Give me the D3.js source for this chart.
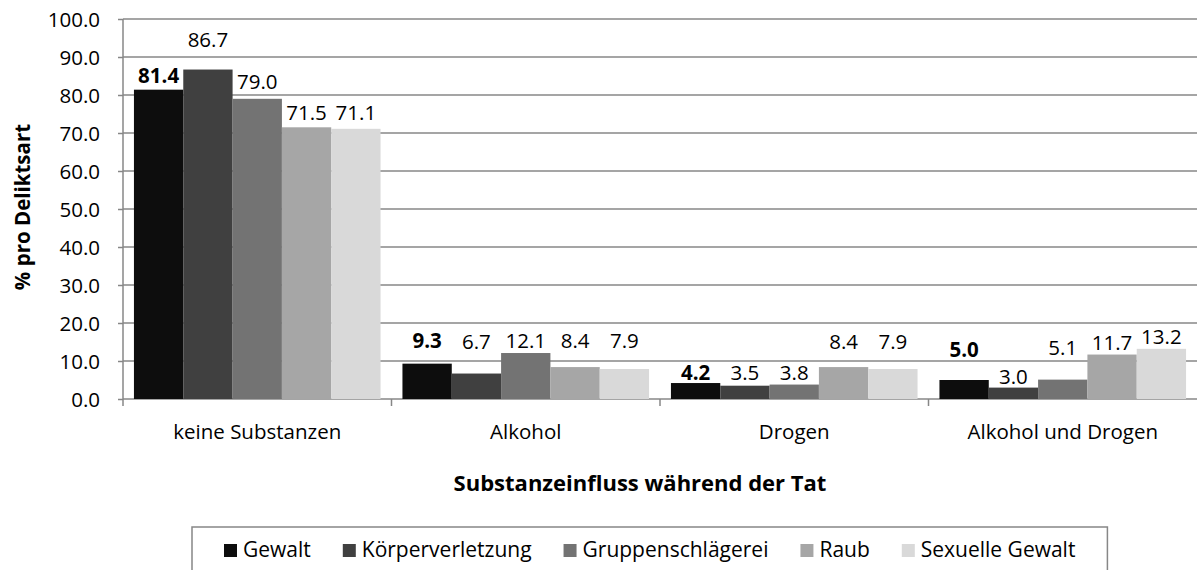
<!DOCTYPE html>
<html>
<head>
<meta charset="utf-8">
<script src="https://cdn.jsdelivr.net/npm/d3@7"></script>
<style>
  body { margin: 0; background: #fff; }
  svg text { font-family: "Open Sans", sans-serif; fill: #000; }
</style>
</head>
<body>
<div id="c"></div>
<script>
var categories = ["keine Substanzen", "Alkohol", "Drogen", "Alkohol und Drogen"];
var series = ["Gewalt", "Körperverletzung", "Gruppenschlägerei", "Raub", "Sexuelle Gewalt"];
var gewalt = [81.4, 9.3, 4.2, 5.0];
var koerper = [86.7, 6.7, 3.5, 3.0];
var gruppe = [79.0, 12.1, 3.8, 5.1];
var raub = [71.5, 8.4, 8.4, 11.7];
var sexuell = [71.1, 7.9, 7.9, 13.2];
var yTicks = [0, 10, 20, 30, 40, 50, 60, 70, 80, 90, 100];

var values = [gewalt, koerper, gruppe, raub, sexuell];
var colors = ["#0d0d0d", "#404040", "#737373", "#a6a6a6", "#d9d9d9"];
// manual lift of the data labels (px), per category then series
var labelLift = [[2, 18, 5, 2, 4], [11, 20, 0, 14, 16], [-2, 1, 0, 13, 15], [18, -1, 20, 0, 0]];

var width = 1198, height = 570;
var plotLeft = 123, plotRight = 1197, plotTop = 19, plotBottom = 399;
var gridColor = "#878787";
var fs = "20.5px";

var svg = d3.select("#c").append("svg")
	.attr("width", width)
	.attr("height", height);

var x0 = d3.scaleBand().domain(categories).range([plotLeft, plotRight]);
var x1 = d3.scaleBand().domain(series).range([0, x0.bandwidth()]).paddingOuter(0.222);
var y = d3.scaleLinear().domain([0, 100]).range([plotBottom, plotTop]);

// gridlines + y axis
var yAxis = svg.append("g")
	.attr("transform", "translate(" + plotLeft + ",0)")
	.call(d3.axisLeft(y).tickValues(yTicks).tickFormat(d3.format(".1f"))
		.tickSize(5).tickPadding(18));
yAxis.select(".domain").remove();
yAxis.selectAll(".tick line").attr("stroke", gridColor).attr("stroke-width", 1.5);
yAxis.selectAll(".tick text")
	.style("font-size", fs)
	.style("font-family", "'Open Sans', sans-serif")
	.attr("fill", "#000")
	.attr("dy", "0.36em");

svg.append("g").selectAll("line")
	.data(yTicks)
	.enter().append("line")
	.attr("x1", plotLeft).attr("x2", plotRight)
	.attr("y1", function(d) { return y(d); })
	.attr("y2", function(d) { return y(d); })
	.attr("stroke", gridColor).attr("stroke-width", 1.5);

svg.append("line")
	.attr("x1", plotLeft).attr("x2", plotLeft)
	.attr("y1", plotTop).attr("y2", plotBottom + 7)
	.attr("stroke", gridColor).attr("stroke-width", 1.5);

// category ticks
svg.append("g").selectAll("line")
	.data(categories.slice(1))
	.enter().append("line")
	.attr("x1", function(d) { return x0(d); })
	.attr("x2", function(d) { return x0(d); })
	.attr("y1", plotBottom).attr("y2", plotBottom + 7)
	.attr("stroke", gridColor).attr("stroke-width", 1.5);

svg.append("g").selectAll("text")
	.data(categories)
	.enter().append("text")
	.attr("x", function(d) { return x0(d) + x0.bandwidth() / 2; })
	.attr("y", 439)
	.attr("text-anchor", "middle")
	.style("font-size", fs)
	.text(function(d) { return d; });

// bars
var groups = svg.append("g").selectAll("g")
	.data(categories)
	.enter().append("g")
	.attr("transform", function(d) { return "translate(" + x0(d) + ",0)"; });

groups.each(function(cat, ci) {
	var g = d3.select(this);
	series.forEach(function(s, si) {
		var v = values[si][ci];
		g.append("rect")
			.attr("x", x1(s))
			.attr("y", y(v))
			.attr("width", x1.bandwidth())
			.attr("height", y(0) - y(v))
			.attr("fill", colors[si]);
		g.append("text")
			.attr("x", x1(s) + x1.bandwidth() / 2)
			.attr("y", y(v) - 5 - labelLift[ci][si])
			.attr("text-anchor", "middle")
			.style("font-size", fs)
			.style("font-weight", si === 0 ? "bold" : "normal")
			.text(d3.format(".1f")(v));
	});
});

// axis titles
svg.append("text")
	.attr("transform", "translate(30,207) rotate(-90)")
	.attr("text-anchor", "middle")
	.style("font-size", fs)
	.style("font-weight", "bold")
	.text("% pro Deliktsart");

svg.append("text")
	.attr("x", 640).attr("y", 491)
	.attr("text-anchor", "middle")
	.style("font-size", "22px")
	.style("font-weight", "bold")
	.text("Substanzeinfluss während der Tat");

// legend
var legend = svg.append("g");
var boxX = 192, lx = boxX + 32, ly = 557, gap = 32;
var items = legend.selectAll("g")
	.data(series)
	.enter().append("g");
items.append("rect")
	.attr("width", 13).attr("height", 13)
	.attr("y", ly - 13)
	.attr("fill", function(d, i) { return colors[i]; });
items.append("text")
	.attr("x", 19).attr("y", ly)
	.style("font-size", "21px")
	.text(function(d) { return d; });
items.each(function() {
	var g = d3.select(this);
	g.attr("transform", "translate(" + lx + ",0)");
	lx += 19 + g.select("text").node().getComputedTextLength() + gap;
});
legend.insert("rect", ":first-child")
	.attr("x", boxX).attr("y", 527)
	.attr("width", lx - boxX).attr("height", 80)
	.attr("fill", "none")
	.attr("stroke", gridColor).attr("stroke-width", 1.5);
</script>
</body>
</html>
